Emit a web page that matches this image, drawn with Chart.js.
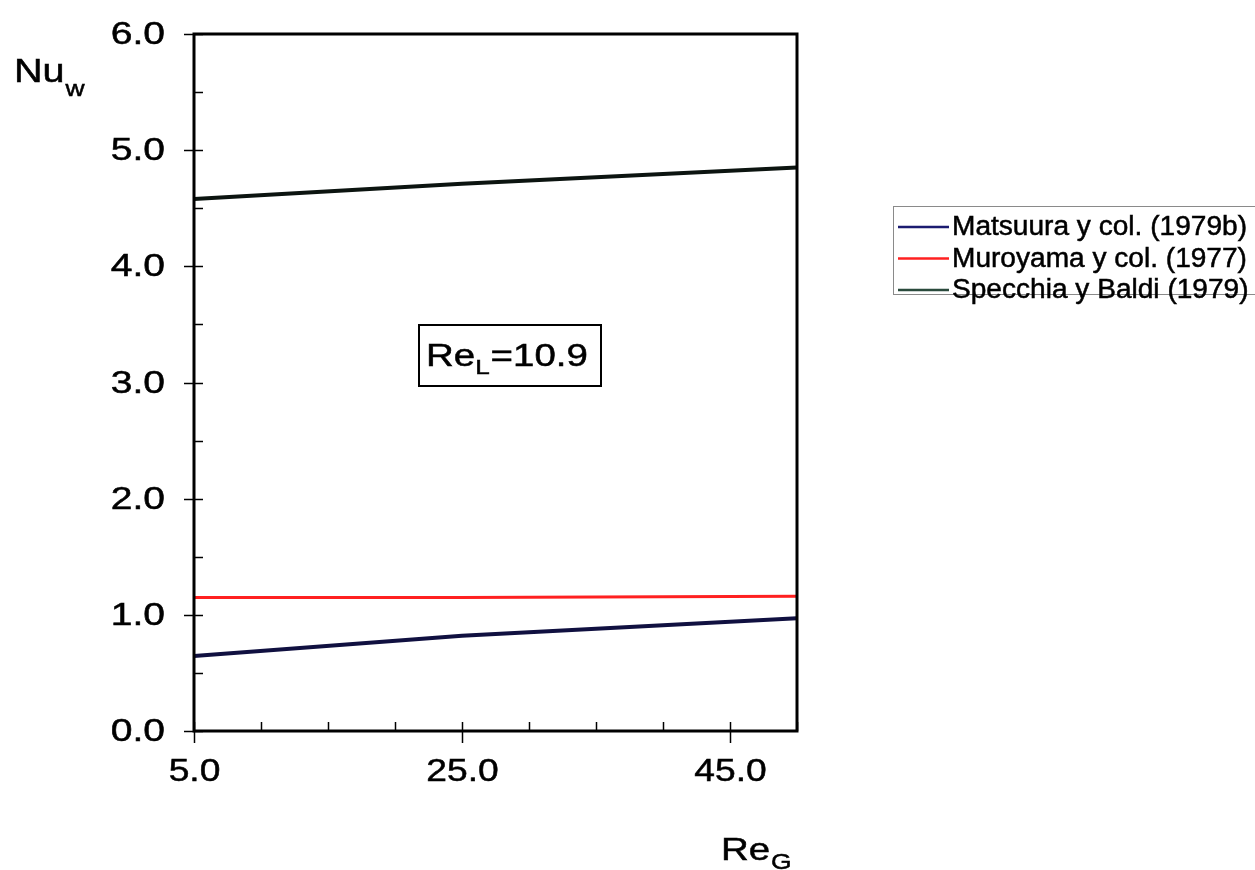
<!DOCTYPE html>
<html>
<head>
<meta charset="utf-8">
<script src="https://cdn.jsdelivr.net/npm/chart.js@4/dist/chart.umd.min.js"></script>
<style>
  html, body { margin: 0; padding: 0; background: #ffffff; }
  #wrap { width: 1255px; height: 870px; position: relative; }
  canvas { display: block; }
</style>
</head>
<body>
<div id="wrap"><canvas id="c" width="1255" height="870"></canvas></div>
<script>
// Gas Reynolds number (x) and wall Nusselt number correlations (y)
const reG = [5, 25, 50];
const matsuura = [0.645, 0.82, 0.97];
const muroyama = [1.15, 1.15, 1.16];
const specchia = [4.58, 4.71, 4.85];

const seriesNames = ['Matsuura y col. (1979b)', 'Muroyama y col. (1977)', 'Specchia y Baldi (1979)'];
const xLabelled = [5, 25, 45];
const yLabelled = [0, 1, 2, 3, 4, 5, 6];
const noteText = ['Re', 'L', '=10.9'];

const FONT = '"Liberation Sans", Arial, Helvetica, sans-serif';
const WIDE = 1.2; // horizontal stretch of the lettering

function pts(values) {
  return reG.map((x, i) => ({ x: x, y: values[i] }));
}

// width of a string once stretched
function textW(ctx, text, size, sx) {
  ctx.font = size + 'px ' + FONT;
  return ctx.measureText(text).width * sx;
}

// draw text with a horizontal stretch; x is the left edge
function putText(ctx, text, x, y, size, sx) {
  ctx.save();
  ctx.font = size + 'px ' + FONT;
  ctx.translate(x, y);
  ctx.scale(sx, 1);
  ctx.textAlign = 'left';
  ctx.fillText(text, 0, 0);
  ctx.lineWidth = 0.5;
  ctx.strokeStyle = ctx.fillStyle;
  ctx.strokeText(text, 0, 0);
  ctx.restore();
  return textW(ctx, text, size, sx);
}

// Draws the frame, tick marks, tick labels, axis titles, note box and legend
const framePlugin = {
  id: 'frame',
  afterDatasetsDraw(chart) {
    const ctx = chart.ctx;
    const a = chart.chartArea;
    const xs = chart.scales.x, ys = chart.scales.y;
    ctx.save();
    ctx.strokeStyle = '#000';
    ctx.fillStyle = '#000';
    ctx.lineWidth = 1.5;
    ctx.textBaseline = 'middle';

    // y tick marks: majors cross the axis, minors sit inside
    ys.ticks.forEach(t => {
      const py = Math.round(ys.getPixelForValue(t.value)) + 0.5;
      const major = yLabelled.includes(t.value);
      ctx.beginPath();
      ctx.moveTo(major ? a.left - 10 : a.left, py);
      ctx.lineTo(a.left + 9, py);
      ctx.stroke();
      if (major) {
        const s = t.value.toFixed(1);
        const w = textW(ctx, s, 31, 1.26);
        putText(ctx, s, a.left - 29 - w, py + 1, 31, 1.26);
      }
    });
    // x tick marks and labels
    xs.ticks.forEach(t => {
      const px = Math.round(xs.getPixelForValue(t.value)) + 0.5;
      const major = xLabelled.includes(t.value);
      ctx.beginPath();
      ctx.moveTo(px, a.bottom - 9);
      ctx.lineTo(px, major ? a.bottom + 12 : a.bottom);
      ctx.stroke();
      if (major) {
        const s = t.value.toFixed(1);
        const w = textW(ctx, s, 31, WIDE);
        putText(ctx, s, px - w / 2, a.bottom + 41, 31, WIDE);
      }
    });
    // plot frame
    ctx.lineWidth = 3;
    ctx.strokeRect(a.left, a.top, a.right - a.left, a.bottom - a.top);

    // axis titles with subscripts
    ctx.textBaseline = 'alphabetic';
    let w = putText(ctx, 'Nu', 14, 82, 33, WIDE);
    putText(ctx, 'w', 14 + w + 1, 96, 22, WIDE);
    w = putText(ctx, 'Re', 721, 860, 32, WIDE);
    putText(ctx, 'G', 721 + w + 1, 869, 22, WIDE);

    // note box
    const bx = 419, by = 325, bw = 182, bh = 61;
    ctx.fillStyle = '#fff';
    ctx.fillRect(bx, by, bw, bh);
    ctx.lineWidth = 2;
    ctx.strokeStyle = '#000';
    ctx.strokeRect(bx, by, bw, bh);
    ctx.fillStyle = '#000';
    let tx = bx + 7;
    tx += putText(ctx, noteText[0], tx, by + 41, 31, 1.24);
    tx += putText(ctx, noteText[1], tx, by + 49, 21, 1.24) + 1;
    putText(ctx, noteText[2], tx, by + 41, 31, 1.24);

    // legend
    const lx = 893, ly = 206, lw = 370, lh = 88;
    ctx.lineWidth = 1;
    ctx.strokeStyle = '#8a8a8a';
    ctx.strokeRect(lx + 0.5, ly + 0.5, lw, lh);
    ctx.textBaseline = 'middle';
    chart.data.datasets.forEach((ds, i) => {
      const ry = ly + 21 + i * 31.5;
      ctx.strokeStyle = ds.legendColor || ds.borderColor;
      ctx.lineWidth = 2.5;
      ctx.beginPath();
      ctx.moveTo(lx + 5, ry);
      ctx.lineTo(lx + 56, ry);
      ctx.stroke();
      ctx.fillStyle = '#000';
      putText(ctx, ds.label, lx + 59, ry + 1, 27, 1.04);
    });
    ctx.restore();
  }
};

new Chart(document.getElementById('c'), {
  type: 'line',
  data: {
    datasets: [
      { label: seriesNames[0], data: pts(matsuura), borderColor: '#101040', legendColor: '#1b1b70', borderWidth: 4 },
      { label: seriesNames[1], data: pts(muroyama), borderColor: '#ff2020', borderWidth: 3 },
      { label: seriesNames[2], data: pts(specchia), borderColor: '#0c1410', legendColor: '#2a4a3c', borderWidth: 4 }
    ]
  },
  options: {
    responsive: false,
    animation: false,
    devicePixelRatio: 1,
    elements: { point: { radius: 0 }, line: { tension: 0, borderCapStyle: 'butt' } },
    layout: { padding: { top: 34, right: 458, left: 0, bottom: 0 } },
    plugins: { legend: { display: false }, tooltip: { enabled: false } },
    scales: {
      x: {
        type: 'linear',
        min: 5, max: 50,
        grid: { display: false, drawTicks: false },
        border: { display: false },
        afterFit(s) { s.height = 139; },
        ticks: { display: false, stepSize: 5, autoSkip: false }
      },
      y: {
        min: 0, max: 6,
        grid: { display: false, drawTicks: false },
        border: { display: false },
        afterFit(s) { s.width = 194; },
        ticks: { display: false, stepSize: 0.5, autoSkip: false }
      }
    }
  },
  plugins: [framePlugin]
});
</script>
</body>
</html>
